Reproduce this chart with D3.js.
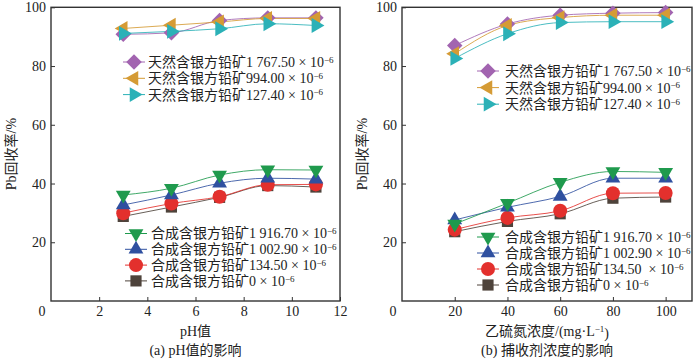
<!DOCTYPE html>
<html>
<head>
<meta charset="utf-8">
<script src="https://cdn.jsdelivr.net/npm/d3@7"></script>
<style>
  body { margin: 0; background: #fff; }
  svg text { font-family: "Liberation Serif", "DejaVu Serif", "Noto Sans CJK SC", serif; fill: #222; }
</style>
</head>
<body>
<svg id="chart" width="700" height="361"></svg>
<script>
// x values
const phValues = [3, 5, 7, 9, 11];
const collectorConc = [20, 40, 60, 80, 100];

// (a) pH effect
const phNat1767 = [90.8, 91.3, 95.5, 96.4, 96.4];
const phNat994 = [92.8, 93.9, 95.0, 96.2, 96.2];
const phNat127 = [91.1, 91.8, 92.7, 94.4, 93.8];
const phSyn1916 = [36.1, 38.4, 42.9, 44.7, 44.6];
const phSyn1002 = [32.7, 36.1, 40.1, 41.8, 41.5];
const phSyn134 = [29.9, 33.2, 35.5, 39.6, 39.7];
const phSyn0 = [28.8, 32.0, 35.3, 39.3, 38.8];

// (b) collector concentration effect
const cNat1767 = [87.0, 94.3, 97.3, 98.0, 98.2];
const cNat994 = [84.2, 93.8, 96.5, 97.3, 97.3];
const cNat127 = [82.6, 91.0, 94.8, 95.1, 95.1];
const cSyn1916 = [26.2, 33.3, 40.4, 44.1, 43.8];
const cSyn1002 = [27.6, 31.9, 35.6, 41.8, 41.8];
const cSyn134 = [24.3, 28.3, 30.7, 36.7, 36.8];
const cSyn0 = [23.6, 27.1, 29.7, 35.0, 35.4];

const yTicks = [20, 40, 60, 80, 100];
const phTicks = [2, 4, 6, 8, 10, 12];
const concTicks = [20, 40, 60, 80, 100];

const natNames = ['1 767.50', '994.00', '127.40'];
const synNamesA = ['1 916.70', '1 002.90', '134.50', '0'];
const synNamesB = ['1 916.70', '1 002.90', '134.50\u00a0', '0'];

const styles = {
  nat1767: { color: '#a264b0', shape: 'diamond' },
  nat994: { color: '#d59b35', shape: 'left' },
  nat127: { color: '#2bb1b7', shape: 'right' },
  syn1916: { color: '#1f9a4d', shape: 'down' },
  syn1002: { color: '#2f50a0', shape: 'up' },
  syn134: { color: '#e3302d', shape: 'circle' },
  syn0: { color: '#4e433b', shape: 'square' }
};

const svg = d3.select('#chart');

function markerPath(shape) {
  if (shape === 'circle') return { d: d3.symbol(d3.symbolCircle, 155)(), rot: 0 };
  if (shape === 'square') return { d: d3.symbol(d3.symbolSquare, 125)(), rot: 0 };
  if (shape === 'diamond') return { d: d3.symbol(d3.symbolSquare, 120)(), rot: 45 };
  const rot = { up: 0, down: 180, left: -90, right: 90 }[shape];
  return { d: d3.symbol(d3.symbolTriangle, 95)(), rot };
}

function drawMarker(g, shape, color, x, y) {
  const m = markerPath(shape);
  g.append('path')
    .attr('d', m.d)
    .attr('transform', `translate(${x},${y}) rotate(${m.rot})`)
    .attr('fill', color);
}

function legendText(g, x, y, prefix, num) {
  const t = g.append('text').attr('x', x).attr('y', y).attr('dy', '0.35em').attr('font-size', 14)
    .attr('xml:space', 'preserve');
  t.append('tspan').text(prefix + num + ' × 10');
  t.append('tspan').attr('dy', '-0.45em').attr('font-size', 9).text('−6');
}

function drawPanel(cfg) {
  const g = svg.append('g');
  const x = d3.scaleLinear().domain(cfg.xDomain).range([cfg.left, cfg.right]);
  const y = d3.scaleLinear().domain([0, 100]).range([301, 7.3]);

  g.append('g')
    .attr('transform', 'translate(0,301)')
    .call(d3.axisBottom(x).tickValues(cfg.xTicks).tickSizeInner(-4).tickSizeOuter(0).tickPadding(5))
    .call(a => a.select('.domain').remove())
    .call(a => a.selectAll('text').attr('font-size', 14).attr('font-family', null))
    .call(a => a.selectAll('line').attr('stroke', '#333'));

  g.append('g')
    .attr('transform', `translate(${cfg.left},0)`)
    .call(d3.axisLeft(y).tickValues(yTicks).tickSizeInner(-4).tickSizeOuter(0).tickPadding(5))
    .call(a => a.select('.domain').remove())
    .call(a => a.selectAll('text').attr('font-size', 14).attr('font-family', null))
    .call(a => a.selectAll('line').attr('stroke', '#333'));

  g.append('rect')
    .attr('x', cfg.left).attr('y', 7.3)
    .attr('width', cfg.right - cfg.left).attr('height', 301 - 7.3)
    .attr('fill', 'none').attr('stroke', '#333').attr('stroke-width', 1.4);

  g.append('text')
    .attr('x', cfg.left - 9).attr('y', 316)
    .attr('text-anchor', 'middle').attr('font-size', 14).text('0');

  const line = d3.line().x(d => x(d[0])).y(d => y(d[1])).curve(d3.curveMonotoneX);

  cfg.series.forEach(s => {
    const pts = cfg.xs.map((v, i) => [v, s.values[i]]);
    g.append('path').datum(pts)
      .attr('d', line).attr('fill', 'none')
      .attr('stroke', s.style.color).attr('stroke-opacity', 0.85).attr('stroke-width', 1);
  });
  cfg.series.forEach(s => {
    cfg.xs.forEach((v, i) => drawMarker(g, s.style.shape, s.style.color, x(v), y(s.values[i])));
  });

  // legends
  cfg.legends.forEach(lg => {
    lg.items.forEach((it, i) => {
      const ly = lg.y + i * lg.step;
      g.append('line')
        .attr('x1', lg.mx - 11).attr('x2', lg.mx + 11).attr('y1', ly).attr('y2', ly)
        .attr('stroke', it.style.color).attr('stroke-width', 1);
      drawMarker(g, it.style.shape, it.style.color, lg.mx, ly);
      legendText(g, lg.tx, ly, it.prefix, it.num);
    });
  });

  const cx = (cfg.left + cfg.right) / 2;
  const xt = g.append('text').attr('x', cx).attr('y', 331).attr('dy', '0.35em')
    .attr('text-anchor', 'middle').attr('font-size', 14);
  cfg.xTitle(xt);
  g.append('text').attr('x', cx).attr('y', 350).attr('dy', '0.35em')
    .attr('text-anchor', 'middle').attr('font-size', 14).text(cfg.caption);

  g.append('text')
    .attr('transform', `translate(${cfg.left - 40},154) rotate(-90)`)
    .attr('dy', '0.35em').attr('text-anchor', 'middle').attr('font-size', 14)
    .text('Pb回收率/%');
}

const natStyles = [styles.nat1767, styles.nat994, styles.nat127];
const synStyles = [styles.syn1916, styles.syn1002, styles.syn134, styles.syn0];

drawPanel({
  left: 51, right: 340, xDomain: [0, 12], xTicks: phTicks, xs: phValues,
  series: [
    { values: phSyn0, style: styles.syn0 },
    { values: phSyn134, style: styles.syn134 },
    { values: phSyn1002, style: styles.syn1002 },
    { values: phSyn1916, style: styles.syn1916 },
    { values: phNat1767, style: styles.nat1767 },
    { values: phNat994, style: styles.nat994 },
    { values: phNat127, style: styles.nat127 }
  ],
  legends: [
    { mx: 134, tx: 148, y: 62, step: 16.3,
      items: natNames.map((n, i) => ({ prefix: '天然含银方铅矿', num: n, style: natStyles[i] })) },
    { mx: 136, tx: 151, y: 233.5, step: 15.8,
      items: synNamesA.map((n, i) => ({ prefix: '合成含银方铅矿', num: n, style: synStyles[i] })) }
  ],
  xTitle: t => t.text('pH值'),
  caption: '(a) pH值的影响'
});

drawPanel({
  left: 402, right: 692, xDomain: [0, 110], xTicks: concTicks, xs: collectorConc,
  series: [
    { values: cSyn0, style: styles.syn0 },
    { values: cSyn134, style: styles.syn134 },
    { values: cSyn1002, style: styles.syn1002 },
    { values: cSyn1916, style: styles.syn1916 },
    { values: cNat1767, style: styles.nat1767 },
    { values: cNat994, style: styles.nat994 },
    { values: cNat127, style: styles.nat127 }
  ],
  legends: [
    { mx: 488, tx: 505, y: 71, step: 16.6,
      items: natNames.map((n, i) => ({ prefix: '天然含银方铅矿', num: n, style: natStyles[i] })) },
    { mx: 488, tx: 505, y: 237, step: 16,
      items: synNamesB.map((n, i) => ({ prefix: '合成含银方铅矿', num: n, style: synStyles[i] })) }
  ],
  xTitle: t => {
    t.append('tspan').text('乙硫氮浓度/(mg·L');
    t.append('tspan').attr('dy', '-0.45em').attr('font-size', 9).text('−1');
    t.append('tspan').attr('dy', '0.45em').text(')');
  },
  caption: '(b) 捕收剂浓度的影响'
});
</script>
</body>
</html>
